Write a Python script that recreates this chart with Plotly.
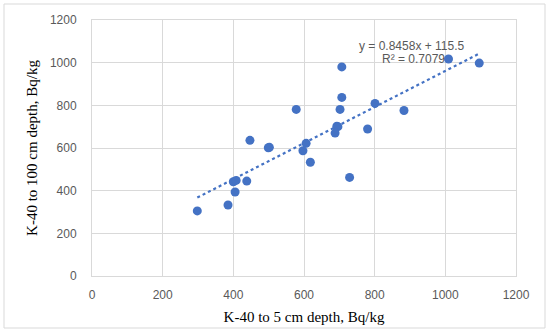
import plotly.graph_objects as go

# Data
k40_5cm = [298, 385, 405, 400, 408, 438, 447, 499, 502, 578, 606, 597, 618,
           707, 707, 702, 693, 696, 688, 729, 780, 801, 883, 1009, 1096]
k40_100cm = [305, 333, 394, 442, 448, 445, 636, 601, 603, 781, 622, 587, 533,
             980, 837, 781, 702, 700, 670, 462, 689, 809, 776, 1017, 998]

slope = 0.8458
intercept = 115.5
r2 = 0.7079

x_ticks = [0, 200, 400, 600, 800, 1000, 1200]
y_ticks = [0, 200, 400, 600, 800, 1000, 1200]

W, H = 550, 334
L, R, T, B = 92, 516, 20, 276

blue = "#4472C4"
grey_txt = "#595959"
grid = "#d9d9d9"

xmin, xmax = min(k40_5cm), max(k40_5cm)
trend_x = [xmin, xmax]
trend_y = [slope * v + intercept for v in trend_x]

fig = go.Figure()
fig.add_trace(go.Scatter(x=trend_x, y=trend_y, mode="lines",
                         line=dict(color=blue, width=2.2, dash="dot"),
                         hoverinfo="skip", showlegend=False))
fig.add_trace(go.Scatter(x=k40_5cm, y=k40_100cm, mode="markers",
                         marker=dict(color=blue, size=9, line=dict(width=0)),
                         showlegend=False))

def px(xp):
    return (xp - L) / (R - L)

def py(yp):
    return (B - yp) / (B - T)

fig.add_shape(type="rect", xref="paper", yref="paper",
              x0=px(4), x1=px(545), y0=py(328), y1=py(4),
              line=dict(color=grid, width=1), fillcolor="rgba(0,0,0,0)",
              layer="below")

fig.add_annotation(x=px(412), y=py(46), xref="paper", yref="paper",
                   xanchor="center", yanchor="middle",
                   text=f"y = {slope}x + {intercept}", showarrow=False,
                   font=dict(family="Liberation Sans", size=12, color=grey_txt))
fig.add_annotation(x=px(413), y=py(59), xref="paper", yref="paper",
                   xanchor="center", yanchor="middle",
                   text=f"R² = {r2}", showarrow=False,
                   font=dict(family="Liberation Sans", size=12, color=grey_txt))

fig.update_layout(
    width=W, height=H,
    margin=dict(l=L, r=W - R, t=T, b=H - B, pad=0, autoexpand=False),
    paper_bgcolor="white", plot_bgcolor="white",
    font=dict(family="Liberation Sans", size=12, color=grey_txt),
    xaxis=dict(range=[0, 1200], tickvals=x_ticks, ticktext=[str(v) for v in x_ticks],
               showgrid=True, gridcolor=grid, gridwidth=1, zeroline=False,
               showline=True, linecolor=grid, linewidth=1, mirror=True,
               ticks="", ticklabelstandoff=8, automargin=False,
               title=dict(text="K-40 to 5 cm depth, Bq/kg", standoff=10,
                          font=dict(family="Liberation Serif", size=15, color="black"))),
    yaxis=dict(range=[0, 1200], tickvals=y_ticks, ticktext=[str(v) for v in y_ticks],
               showgrid=True, gridcolor=grid, gridwidth=1, zeroline=False,
               showline=True, linecolor=grid, linewidth=1, mirror=True,
               ticks="", ticklabelstandoff=12, automargin=False,
               title=dict(text="K-40 to 100 cm depth, Bq/kg", standoff=8,
                          font=dict(family="Liberation Serif", size=15, color="black"))),
)

fig.write_html("out.html", config={"displayModeBar": False},
               post_script="document.body.style.margin='0';document.body.style.padding='0';")
